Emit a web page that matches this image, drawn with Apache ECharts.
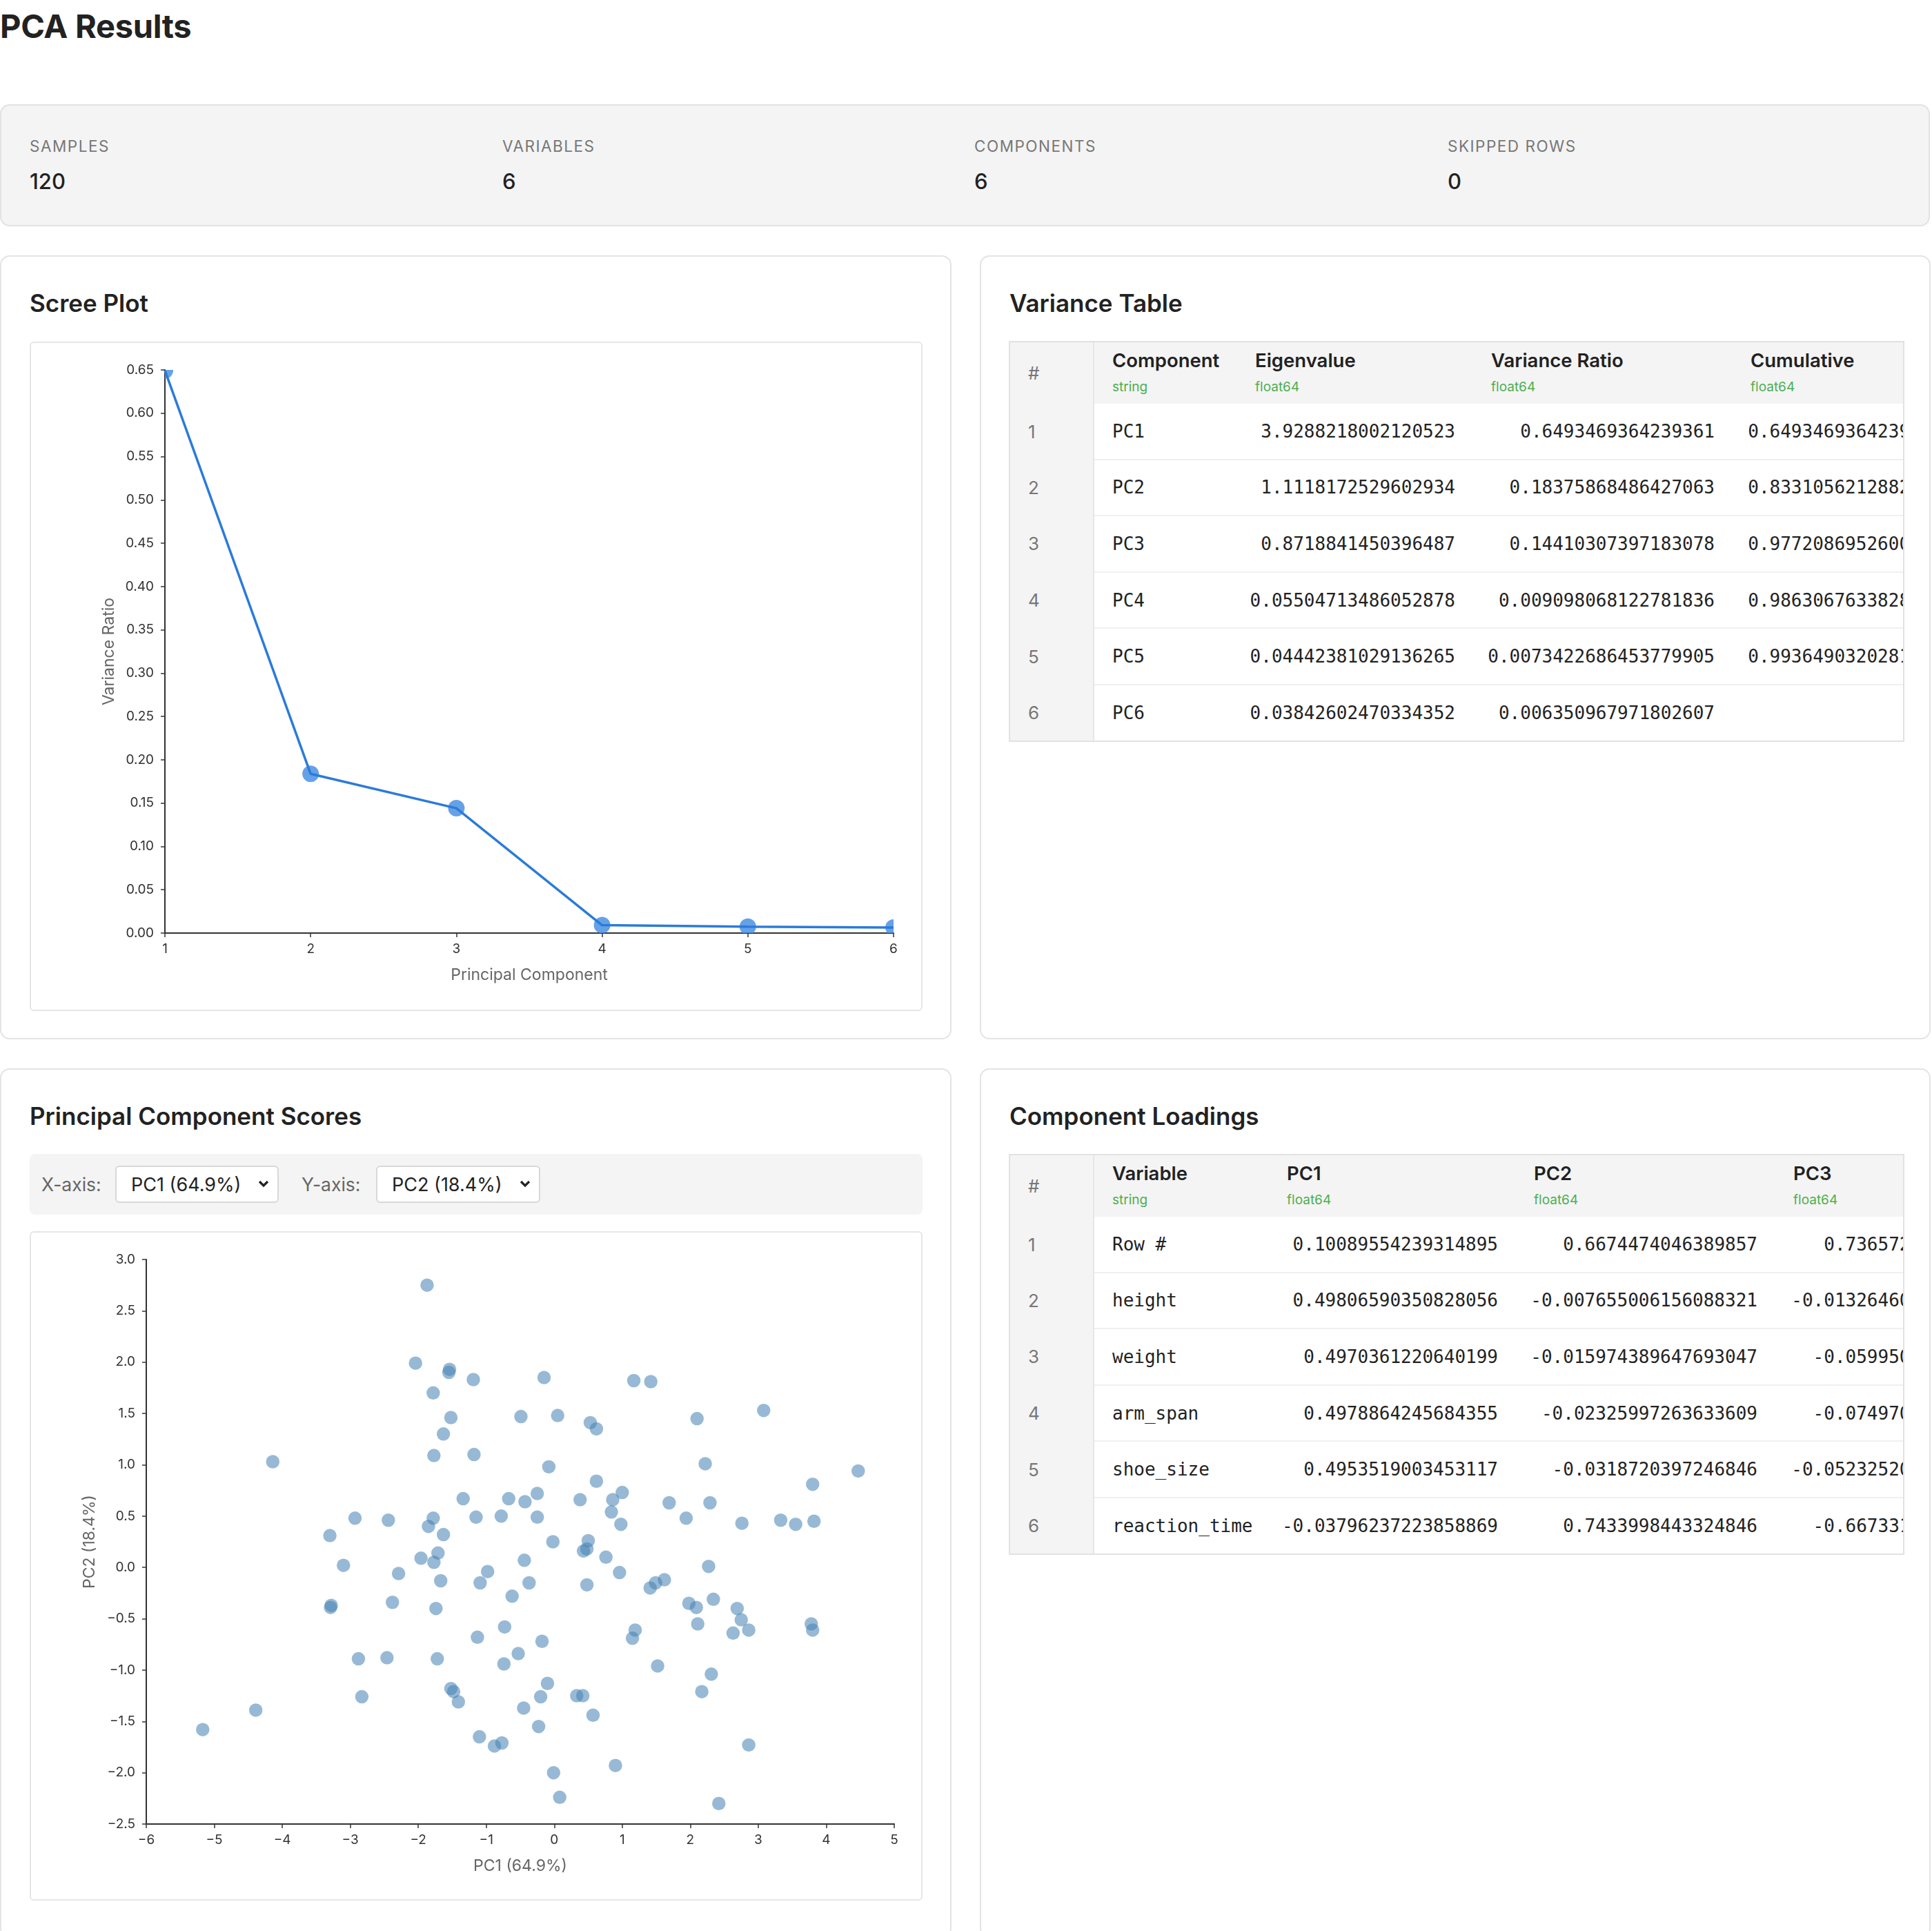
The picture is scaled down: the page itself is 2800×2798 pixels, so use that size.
<!DOCTYPE html>
<html>
<head>
<meta charset="utf-8">
<title>PCA Results</title>
<script src="https://cdn.jsdelivr.net/npm/echarts@6/dist/echarts.min.js"></script>
<style>
  body { margin: 0; width: 2800px; height: 2798px; position: relative; overflow: hidden; background: #fff;
         font-family: Inter, "Noto Sans", sans-serif; color: #222; }
  .abs { position: absolute; }
  h1 { position: absolute; left: 0; top: 14px; margin: 0; font-size: 47px; line-height: 47px; font-weight: 700; letter-spacing: -0.3px; }
  .stats { left: 0; top: 151px; width: 2797px; height: 177px; box-sizing: border-box; background: #f4f4f4;
           border: 2px solid #e2e2e2; border-radius: 14px; }
  .stat-label { font-size: 22.5px; line-height: 22px; color: #777; letter-spacing: 1.5px; top: 201px; }
  .stat-value { font-size: 31px; line-height: 31px; color: #222; font-weight: 500; top: 247px; }
  .card { box-sizing: border-box; background: #fff; border: 2px solid #e4e4e4; border-radius: 14px; }
  .card-title { font-size: 35px; line-height: 35px; font-weight: 600; letter-spacing: 0; }
  .box { box-sizing: border-box; border: 2px solid #e6e6e6; border-radius: 6px; background: #fff; }
  .controls { left: 43px; top: 1672px; width: 1294px; height: 88px; background: #f4f4f4; border-radius: 8px; }
  .ctl-label { font-size: 26.5px; line-height: 26px; color: #666; top: 1703px; }
  .select { box-sizing: border-box; top: 1689px; height: 54px; background: #fff; border: 2px solid #d8d8d8; border-radius: 6px; }
  .select span { position: absolute; left: 21px; top: 13px; font-size: 27px; line-height: 26px; color: #222; }
  .select svg { position: absolute; right: 12px; top: 19px; }
  .tblwrap { position: absolute; left: 1462px; width: 1298px; box-sizing: border-box; border: 2px solid #e2e2e2; overflow: hidden; }
  table { border-collapse: collapse; table-layout: fixed; }
  th { background: #f4f4f4; text-align: left; vertical-align: top; padding: 9px 26px 0 26px; height: 80px; }
  th .n { display: block; font-size: 27.5px; line-height: 34px; font-weight: 600; color: #222; }
  th .t { display: block; font-size: 19px; line-height: 28px; margin-top: 8px; font-weight: 400; color: #4caf50; }
  th.idx { vertical-align: middle; padding: 0 26px; font-size: 26px; font-weight: 400; color: #777; border-right: 2px solid #e6e6e6; }
  td { height: 79.6px; padding: 0 26px; border-bottom: 2px solid #f0f0f0; font-family: "DejaVu Sans Mono", "Liberation Mono", monospace;
       font-size: 26px; color: #222; white-space: nowrap; overflow: hidden; }
  tr:last-child td { border-bottom: none; }
  td.num { text-align: right; padding-left: 0; }
  td.idx { background: #f4f4f4; border-bottom: none; border-right: 2px solid #e6e6e6; font-family: Inter, sans-serif; font-size: 26px; color: #777; }
</style>
</head>
<body>
<h1>PCA Results</h1>

<div class="abs stats"></div>
<div class="abs stat-label" style="left:43px">SAMPLES</div>
<div class="abs stat-value" style="left:43px">120</div>
<div class="abs stat-label" style="left:728px">VARIABLES</div>
<div class="abs stat-value" style="left:728px">6</div>
<div class="abs stat-label" style="left:1412px">COMPONENTS</div>
<div class="abs stat-value" style="left:1412px">6</div>
<div class="abs stat-label" style="left:2098px">SKIPPED ROWS</div>
<div class="abs stat-value" style="left:2098px">0</div>

<!-- scree -->
<div class="abs card" style="left:0;top:370px;width:1379px;height:1136px"></div>
<div class="abs card-title" style="left:43px;top:422px">Scree Plot</div>
<div class="abs box" style="left:43px;top:495px;width:1294px;height:970px"></div>
<div id="scree" class="abs" style="left:43px;top:495px;width:1294px;height:970px"></div>

<!-- variance table -->
<div class="abs card" style="left:1420px;top:370px;width:1378px;height:1136px"></div>
<div class="abs card-title" style="left:1463px;top:422px">Variance Table</div>
<div class="tblwrap" style="top:494px"><table id="vtable"></table></div>

<!-- scores -->
<div class="abs card" style="left:0;top:1548px;width:1379px;height:1260px"></div>
<div class="abs card-title" style="left:43px;top:1600px">Principal Component Scores</div>
<div class="abs controls"></div>
<div class="abs ctl-label" style="left:60px">X-axis:</div>
<div class="abs select" style="left:167px;width:237px"><span>PC1 (64.9%)</span>
  <svg width="16" height="11" viewBox="0 0 16 11"><polyline points="2,2 8,8 14,2" fill="none" stroke="#222" stroke-width="3.2"/></svg></div>
<div class="abs ctl-label" style="left:437px">Y-axis:</div>
<div class="abs select" style="left:545px;width:238px"><span>PC2 (18.4%)</span>
  <svg width="16" height="11" viewBox="0 0 16 11"><polyline points="2,2 8,8 14,2" fill="none" stroke="#222" stroke-width="3.2"/></svg></div>
<div class="abs box" style="left:43px;top:1784px;width:1294px;height:970px"></div>
<div id="scores" class="abs" style="left:43px;top:1784px;width:1294px;height:970px"></div>

<!-- loadings -->
<div class="abs card" style="left:1420px;top:1548px;width:1378px;height:1260px"></div>
<div class="abs card-title" style="left:1463px;top:1600px">Component Loadings</div>
<div class="tblwrap" style="top:1672px"><table id="ltable"></table></div>

<script>
// scree data
var componentNo = [1, 2, 3, 4, 5, 6]
var componentNames = ['PC1', 'PC2', 'PC3', 'PC4', 'PC5', 'PC6']
var eigenvalues = ['3.9288218002120523', '1.1118172529602934', '0.8718841450396487', '0.05504713486052878', '0.04442381029136265', '0.03842602470334352']
var varianceRatio = [0.6493469364239361, 0.18375868486427063, 0.14410307397183078, 0.009098068122781836, 0.0073422686453779905, 0.006350967971802607]
var varianceRatioText = ['0.6493469364239361', '0.18375868486427063', '0.14410307397183078', '0.009098068122781836', '0.0073422686453779905', '0.006350967971802607']
var cumulativeText = ['0.6493469364239361', '0.8331056212882067', '0.9772086952600375', '0.9863067633828193', '0.9936490320281973', '1']

// loadings
var variables = ['Row #', 'height', 'weight', 'arm_span', 'shoe_size', 'reaction_time']
var loadPC1 = ['0.10089554239314895', '0.49806590350828056', '0.4970361220640199', '0.4978864245684355', '0.4953519003453117', '-0.03796237223858869']
var loadPC2 = ['0.6674474046389857', '-0.007655006156088321', '-0.015974389647693047', '-0.02325997263633609', '-0.0318720397246846', '0.7433998443324846']
var loadPC3 = ['0.7365721094387652', '-0.013264604387521436', '-0.0599503182736451', '-0.0749700563218734', '-0.052325204617382945', '-0.6673318452097346']

// scores (PC1, PC2)
var pc1 = [-1.87, -2.04, -1.54, -1.55, -1.19, -1.78, -1.52, -1.63, -1.77, -1.18, -4.14, -1.34, -2.93, -2.44, -1.78, -1.85, -1.15, -3.30, -1.63,
  -1.71, -1.96, -1.77, -3.10, -2.29, -1.67, -0.98, -1.09, -3.28, -3.29, -2.38, -1.74, -1.13, -2.88, -2.46, -1.72, -1.52, -1.48, -1.41, -2.83, -4.39, -5.17, -1.10,
  -0.02, 0.50, 0.43, 0.48, 0.76, -0.44, -0.37, -0.62, 0.48, 0.96, 1.41, 1.49, 1.62, 2.27, 1.98, 2.09, 2.34, 2.11, 2.69, 2.75, 2.63, 2.86, 3.78, 3.80,
  -0.73, -0.18, 1.19, 1.15, -0.53, -0.74, 1.52, 2.31, 2.17, -0.10, -0.20, 0.33, 0.42, -0.45, 0.57, -0.23, -0.88, -0.77, 2.86, 0.90, -0.01, 0.08, 2.42,
  -0.15, 1.17, 1.42, -0.49, 0.05, 0.53, 0.62, 2.10, 3.08, -0.08, 2.22, 4.47, 3.80, 0.62, -0.25, -0.67, -0.43, 0.38, 0.86, 1.00, 1.69, 2.29,
  -0.78, -0.25, 0.84, 0.98, 1.94, 2.76, 3.33, 3.55, 3.82]
var pc2 = [2.75, 1.99, 1.93, 1.90, 1.83, 1.70, 1.46, 1.30, 1.09, 1.10, 1.03, 0.67, 0.48, 0.46, 0.48, 0.40, 0.49, 0.31, 0.32,
  0.14, 0.09, 0.05, 0.02, -0.06, -0.13, -0.04, -0.15, -0.37, -0.39, -0.34, -0.40, -0.68, -0.89, -0.88, -0.89, -1.18, -1.21, -1.31, -1.26, -1.39, -1.58, -1.65,
  0.25, 0.26, 0.16, 0.18, 0.10, 0.07, -0.15, -0.28, -0.17, -0.05, -0.20, -0.15, -0.12, 0.01, -0.35, -0.39, -0.31, -0.55, -0.40, -0.51, -0.64, -0.61, -0.55, -0.61,
  -0.58, -0.72, -0.61, -0.69, -0.84, -0.94, -0.96, -1.04, -1.21, -1.13, -1.26, -1.25, -1.25, -1.37, -1.44, -1.55, -1.74, -1.71, -1.73, -1.93, -2.00, -2.24, -2.30,
  1.85, 1.82, 1.81, 1.47, 1.48, 1.41, 1.35, 1.45, 1.53, 0.98, 1.01, 0.94, 0.81, 0.84, 0.72, 0.67, 0.64, 0.66, 0.66, 0.73, 0.63, 0.63,
  0.50, 0.49, 0.54, 0.42, 0.48, 0.43, 0.46, 0.42, 0.45]

function th(name, type) {
  return '<th><span class="n">' + name + '</span><span class="t">' + type + '</span></th>'
}
function buildTable(id, widths, heads, rows) {
  var html = '<colgroup>' + widths.map(function (w) { return '<col style="width:' + w + 'px">' }).join('') + '</colgroup>'
  html += '<tr><th class="idx">#</th>' + heads.map(function (h) { return th(h[0], h[1]) }).join('') + '</tr>'
  rows.forEach(function (r, i) {
    html += '<tr><td class="idx">' + (i + 1) + '</td><td>' + r[0] + '</td>' +
      r.slice(1).map(function (v) { return '<td class="num">' + v + '</td>' }).join('') + '</tr>'
  })
  var t = document.getElementById(id)
  t.innerHTML = html
  t.style.width = widths.reduce(function (a, b) { return a + b }, 0) + 'px'
}

buildTable('vtable', [121, 208, 342, 376, 330],
  [['Component', 'string'], ['Eigenvalue', 'float64'], ['Variance Ratio', 'float64'], ['Cumulative', 'float64']],
  componentNames.map(function (c, i) { return [c, eigenvalues[i], varianceRatioText[i], cumulativeText[i]] }))

buildTable('ltable', [121, 254, 358, 376, 378],
  [['Variable', 'string'], ['PC1', 'float64'], ['PC2', 'float64'], ['PC3', 'float64']],
  variables.map(function (v, i) { return [v, loadPC1[i], loadPC2[i], loadPC3[i]] }))

// shared axis look (d3 style)
function axis(extra) {
  var base = {
    type: 'value',
    nameLocation: 'middle',
    nameTextStyle: { color: '#666', fontSize: 23, fontFamily: 'Inter' },
    axisLine: { show: true, onZero: false, lineStyle: { color: '#333', width: 2 } },
    axisTick: { show: true, length: 6, lineStyle: { color: '#333', width: 1.5 } },
    axisLabel: { color: '#333', fontSize: 19, fontFamily: 'Inter', margin: 14 },
    splitLine: { show: false }
  }
  return Object.assign(base, extra)
}
function minus(s) { return s.replace('-', '\u2212') }

var scree = echarts.init(document.getElementById('scree'))
var screeData = componentNo.map(function (c, i) { return [c, varianceRatio[i]] })
scree.setOption({
  animation: false,
  grid: { left: 196, right: 42, top: 41, bottom: 113 },
  xAxis: axis({ name: 'Principal Component', nameGap: 50, min: 1, max: 6, interval: 1 }),
  yAxis: axis({ name: 'Variance Ratio', nameGap: 69, min: 0, max: 0.65, interval: 0.05,
    axisLabel: { color: '#333', fontSize: 19, fontFamily: 'Inter', margin: 16, formatter: function (v) { return v.toFixed(2) } } }),
  series: [
    {
      type: 'line',
      data: screeData,
      showSymbol: false,
      lineStyle: { color: '#2b7bd9', width: 3.5 }
    },
    {
      // markers as clipped circles
      type: 'custom',
      clip: true,
      data: screeData,
      renderItem: function (params, api) {
        var p = api.coord([api.value(0), api.value(1)])
        return { type: 'circle', shape: { cx: p[0], cy: p[1], r: 12 }, style: { fill: 'rgba(74,144,226,0.85)' } }
      }
    }
  ]
})

var scores = echarts.init(document.getElementById('scores'))
scores.setOption({
  animation: false,
  grid: { left: 169, right: 41, top: 41, bottom: 111 },
  xAxis: axis({ name: 'PC1 (64.9%)', nameGap: 50, min: -6, max: 5, interval: 1,
    axisLabel: { color: '#333', fontSize: 19, fontFamily: 'Inter', margin: 14, formatter: function (v) { return minus(String(v)) } } }),
  yAxis: axis({ name: 'PC2 (18.4%)', nameGap: 70, min: -2.5, max: 3, interval: 0.5,
    axisLabel: { color: '#333', fontSize: 19, fontFamily: 'Inter', margin: 16, formatter: function (v) { return minus(v.toFixed(1)) } } }),
  series: [
    {
      type: 'scatter',
      data: pc1.map(function (x, i) { return [x, pc2[i]] }),
      symbolSize: 19.5,
      itemStyle: { color: 'rgba(70,130,180,0.7)' }
    }
  ]
})
</script>
</body>
</html>
